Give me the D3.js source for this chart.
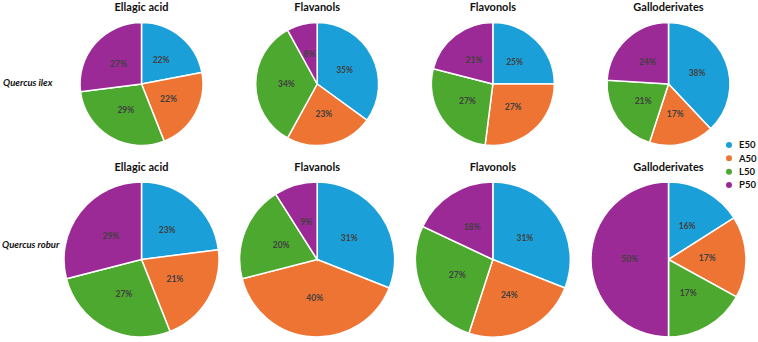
<!DOCTYPE html>
<html>
<head>
<meta charset="utf-8">
<script src="https://cdn.jsdelivr.net/npm/d3@7"></script>
<style>
  body { margin: 0; background: #fff; }
  svg { display: block; font-family: Lato, "Open Sans", sans-serif; }
</style>
</head>
<body>
<svg id="chart" width="758" height="342"></svg>
<script>
// series + compounds
const series = ['E50', 'A50', 'L50', 'P50'];
const compounds = ['Ellagic acid', 'Flavanols', 'Flavonols', 'Galloderivates'];
const species = ['Quercus ilex', 'Quercus robur'];

// percentages per compound, order E50, A50, L50, P50
const ilexValues = [
    [22, 22, 29, 27],
    [35, 23, 34, 8],
    [25, 27, 27, 21],
    [38, 17, 21, 24]
];
const roburValues = [
    [23, 21, 27, 29],
    [31, 40, 20, 9],
    [31, 24, 27, 18],
    [16, 17, 17, 50]
];

const colors = ['#1b9fd8', '#ee7433', '#4ca82e', '#9c2a96'];

const svg = d3.select('#chart');
const color = d3.scaleOrdinal().domain(series).range(colors);

// pie column centres
const x = d3.scalePoint().domain(compounds).range([141.5, 668.5]);

const rows = [
    { name: species[0], values: ilexValues, cy: 84, r: 61.5, titleY: 11, labelX: 3, labelY: 86 },
    { name: species[1], values: roburValues, cy: 259.5, r: 77.5, titleY: 171, labelX: 2, labelY: 248 }
];

const pie = d3.pie().sort(null).value(d => d);

rows.forEach(row => {
    const arc = d3.arc().innerRadius(0).outerRadius(row.r);

    svg.append('text')
        .attr('x', row.labelX)
        .attr('y', row.labelY)
        .style('font-size', '9.5px')
        .style('font-weight', 'bold')
        .style('font-style', 'italic')
        .style('fill', '#111')
        .text(row.name);

    compounds.forEach((c, i) => {
        const g = svg.append('g')
            .attr('transform', `translate(${x(c)}, ${row.cy})`);

        svg.append('text')
            .attr('x', x(c))
            .attr('y', row.titleY)
            .attr('text-anchor', 'middle')
            .style('font-size', '11px')
            .style('font-weight', 'bold')
            .style('fill', '#111')
            .text(c);

        const slices = pie(row.values[i]);

        g.selectAll('path')
            .data(slices)
            .enter().append('path')
            .attr('d', arc)
            .style('fill', (d, k) => color(series[k]))
            .style('stroke', '#fff')
            .style('stroke-width', 1.5);

        // labels sit at the slice centroid (half radius)
        g.selectAll('text')
            .data(slices)
            .enter().append('text')
            .attr('transform', d => `translate(${arc.centroid(d)})`)
            .attr('text-anchor', 'middle')
            .attr('dy', '0.35em')
            .style('font-size', '8.5px')
            .style('font-weight', 'bold')
            .style('fill', '#404040')
            .text(d => d.data + '%');
    });
});

// legend
const legend = svg.append('g').attr('transform', 'translate(729, 145)');
const ly = d3.scalePoint().domain(series).range([0, 40]);

legend.selectAll('circle')
    .data(series)
    .enter().append('circle')
    .attr('cx', 0)
    .attr('cy', d => ly(d))
    .attr('r', 3)
    .style('fill', d => color(d));

legend.selectAll('text')
    .data(series)
    .enter().append('text')
    .attr('x', 10)
    .attr('y', d => ly(d))
    .attr('dy', '0.35em')
    .style('font-size', '9.5px')
    .style('font-weight', 'bold')
    .style('fill', '#111')
    .text(d => d);
</script>
</body>
</html>
